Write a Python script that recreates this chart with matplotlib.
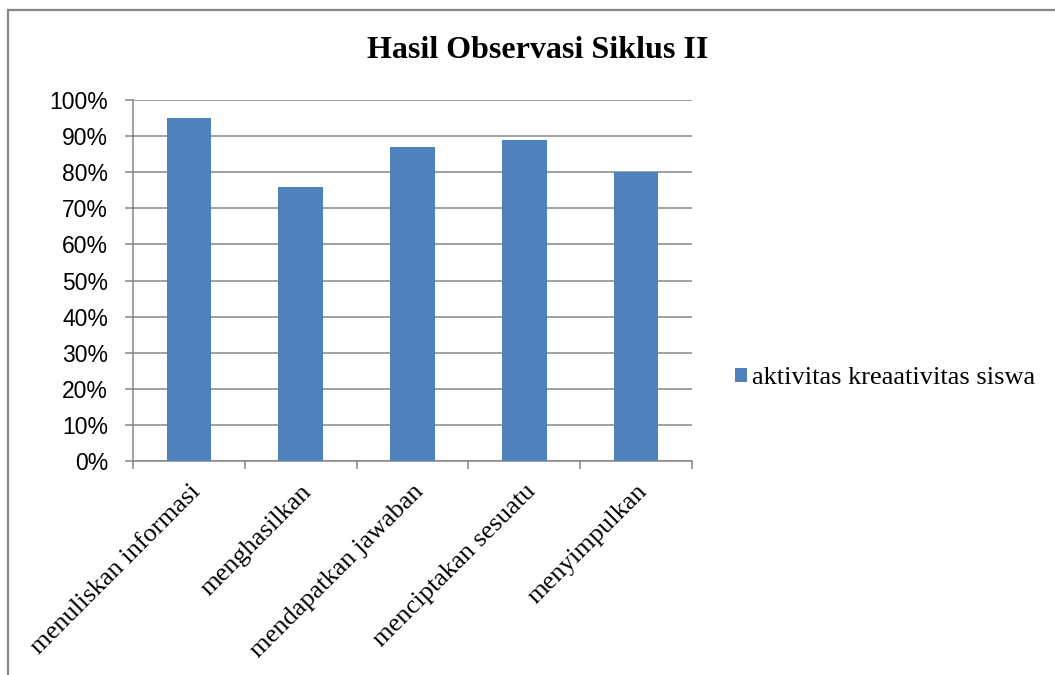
import numpy as np
import matplotlib.pyplot as plt
from matplotlib.patches import Rectangle
from matplotlib.ticker import FixedLocator, PercentFormatter

categories = ['menuliskan informasi', 'menghasilkan', 'mendapatkan jawaban',
              'menciptakan sesuatu', 'menyimpulkan']
values = [0.95, 0.76, 0.87, 0.89, 0.80]
series_name = 'aktivitas kreaativitas siswa'
title = 'Hasil Observasi Siklus II'

bar_color = '#4F81BD'
grid_color = '#868686'
serif = ['Liberation Serif', 'DejaVu Serif']
sans = ['Liberation Sans', 'DejaVu Sans']

fig = plt.figure(figsize=(10.55, 6.75), dpi=100)

# chart frame, runs off the right and bottom edges
fig.patches.append(Rectangle((8 / 1055, -0.1), 1.2, 1 - 10 / 675 + 0.1,
                             transform=fig.transFigure, fill=False,
                             edgecolor='#878787', linewidth=1.6))

ax = fig.add_axes([133 / 1055, 1 - 461 / 675, (692 - 133) / 1055, (461 - 100) / 675])
x = np.arange(len(categories))
ax.bar(x, values, width=0.4, color=bar_color, label=series_name, zorder=3)

ax.set_xlim(-0.5, len(categories) - 0.5)
ax.set_ylim(0, 1.0)
ax.set_yticks(np.linspace(0, 1, 11))
ax.yaxis.set_major_formatter(PercentFormatter(1.0, decimals=0))
ax.grid(axis='y', color=grid_color, linewidth=1.1, zorder=0)

for side in ['top', 'right']:
    ax.spines[side].set_visible(False)
for side in ['left', 'bottom']:
    ax.spines[side].set_color(grid_color)
    ax.spines[side].set_linewidth(1.1)

ax.tick_params(axis='y', length=6, width=1.1, color=grid_color, pad=12)
for lab in ax.get_yticklabels():
    lab.set_family(sans)
    lab.set_fontsize(16.5)

ax.set_xticks(x)
ax.set_xticklabels(categories, rotation=45, ha='right', va='top',
                   rotation_mode='anchor', family=serif, fontsize=19)
ax.tick_params(axis='x', which='major', length=0, pad=14)
ax.xaxis.set_minor_locator(FixedLocator(np.arange(-0.5, len(categories), 1.0)))
ax.tick_params(axis='x', which='minor', length=6, width=1.1, color=grid_color)

fig.text(538 / 1055, 1 - 50 / 675, title, ha='center', va='center',
         family=serif, fontweight='bold', fontsize=23)

ax.legend(loc='center left', bbox_to_anchor=(735 / 1055, 1 - 378 / 675),
          bbox_transform=fig.transFigure, frameon=False,
          prop={'family': serif, 'size': 19},
          borderpad=0, borderaxespad=0,
          handlelength=0.45, handleheight=0.45, handletextpad=0.2)

fig.savefig('out.png', dpi=100)
